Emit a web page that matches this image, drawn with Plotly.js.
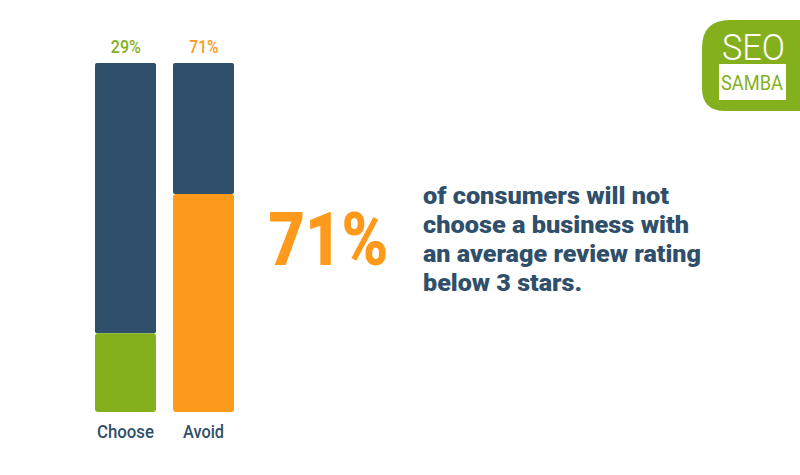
<!DOCTYPE html>
<html><head><meta charset="utf-8">
<script src="https://cdn.plot.ly/plotly-3.0.1.min.js"></script>
<style>html,body{margin:0;padding:0;background:#fff}</style></head>
<body><div id="chart" style="width:800px;height:475px"></div>
<script>
const categories = ["Choose", "Avoid"];
const filledHeights = [22.6, 62.5];
const remainderHeights = [77.4, 37.5];
const barLabels = ["29%", "71%"];
const headline = "71%";
const bodyLines = ["of consumers will not", "choose a business with", "an average review rating", "below 3 stars."];
const logoTop = "SEO";
const logoBottom = "SAMBA";

const NAVY = "#2f4f6a", GREEN = "#85b01e", ORANGE = "#fe9a1b";
const W = 800, H = 475;
const px = x => x / W, py = y => 1 - y / H;

// Rendered widths of the condensed reference lettering.
const textWidths = {"Choose":57,"Avoid":41,"29%":30,"71%":29,"SEO":63,"SAMBA":62,
  "of consumers will not":246,"choose a business with":266,"an average review rating":278,"below 3 stars.":159};
const headlineWidth = 120;

const traces = [
  {type:"bar", x:categories, y:remainderHeights, base:filledHeights, width:0.782,
   marker:{color:NAVY, cornerradius:2, line:{width:0}}, hoverinfo:"skip"},
  {type:"bar", x:categories, y:filledHeights.map(v=>-v), base:filledHeights, width:0.782,
   marker:{color:[GREEN,ORANGE], cornerradius:3, line:{width:0}}, hoverinfo:"skip"}
];

const ann = [];
barLabels.forEach((t,i)=>ann.push({xref:"x",x:i,yref:"paper",y:py(46.5),text:t,showarrow:false,
  xanchor:"center",yanchor:"middle",font:{family:"Roboto",size:18,weight:500,color:i?ORANGE:GREEN}}));
ann.push({xref:"paper",x:px(328),yref:"paper",y:py(239.5),text:headline,showarrow:false,xanchor:"center",yanchor:"middle",
  font:{family:"Roboto",size:74,weight:900,color:ORANGE}});
bodyLines.forEach((t,i)=>ann.push({xref:"paper",x:px(422),yref:"paper",y:py(195.5+i*29),text:t,showarrow:false,
  xanchor:"left",yanchor:"middle",align:"left",xshift:-1,font:{family:"Roboto",size:24,weight:900,color:NAVY}}));
ann.push({xref:"paper",x:px(753),yref:"paper",y:py(46.5),text:logoTop,showarrow:false,xanchor:"center",yanchor:"middle",
  font:{family:"Roboto",size:37.5,weight:300,color:"#ffffff"}});
ann.push({xref:"paper",x:px(752),yref:"paper",y:py(83.5),text:logoBottom,showarrow:false,xanchor:"center",yanchor:"middle",
  font:{family:"Roboto",size:20,weight:400,color:GREEN}});

const shapes = [
  {type:"path",xref:"paper",yref:"paper",layer:"below",line:{width:0},fillcolor:GREEN,
   path:`M${px(800)},${py(20)} L${px(730)},${py(20)} Q${px(702)},${py(20)} ${px(702)},${py(48)} L${px(702)},${py(88)} Q${px(702)},${py(111)} ${px(725)},${py(111)} L${px(800)},${py(111)} Z`},
  {type:"rect",xref:"paper",yref:"paper",layer:"below",line:{width:0},fillcolor:"#ffffff",
   x0:px(719),x1:px(786),y0:py(64),y1:py(100)}
];

const layout = {
  width:W,height:H,autosize:false,showlegend:false,barmode:"overlay",
  paper_bgcolor:"#fff",plot_bgcolor:"rgba(0,0,0,0)",
  margin:{l:0,r:0,t:0,b:0},
  xaxis:{domain:[86.5/W,242.5/W],range:[-0.5,1.5],type:"category",showgrid:false,zeroline:false,showline:false,
    ticks:"",ticklen:0,ticklabelstandoff:6,tickfont:{family:"Roboto",size:18.5,weight:500,color:NAVY},automargin:false},
  yaxis:{domain:[py(412),py(63)],range:[0,100],showgrid:false,zeroline:false,showline:false,showticklabels:false,ticks:""},
  annotations:ann,shapes:shapes
};
Plotly.newPlot("chart",traces,layout,{staticPlot:true,displayModeBar:false}).then(gd=>{
  gd.querySelectorAll(".annotation-text, .xtick text").forEach(el=>{
    const t = el.textContent;
    const big = parseFloat(el.style.fontSize) > 50;
    const w = big ? headlineWidth : textWidths[t];
    if (w) { el.setAttribute("textLength", w); el.setAttribute("lengthAdjust","spacingAndGlyphs"); }
  });
});
</script></body></html>
